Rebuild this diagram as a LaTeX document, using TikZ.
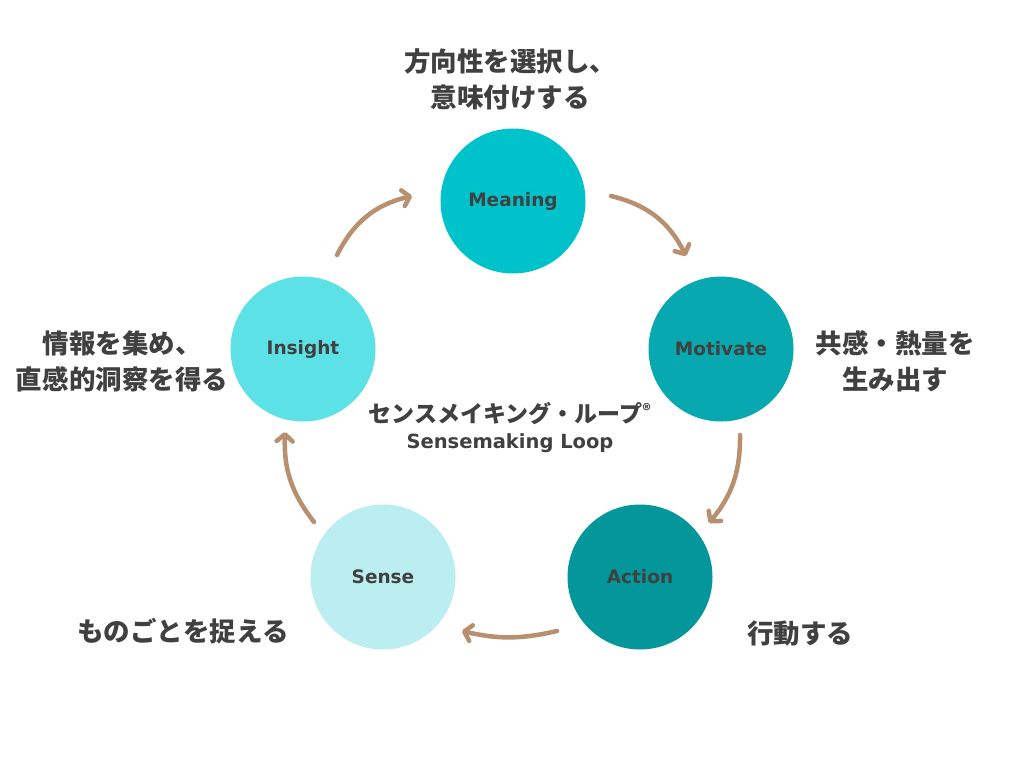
\documentclass[tikz,border=0pt]{standalone}
\usepackage{fontspec}
\setmainfont{DejaVu Sans}
\newfontfamily\jpfont{Noto Sans CJK JP}
\usetikzlibrary{arrows.meta}

\definecolor{inkgray}{HTML}{404040}
\definecolor{arrowtan}{HTML}{B8906F}
\definecolor{meaningcol}{HTML}{00C2CB}
\definecolor{motivatecol}{HTML}{07A8B0}
\definecolor{actioncol}{HTML}{03979C}
\definecolor{sensecol}{HTML}{BAEEF0}
\definecolor{insightcol}{HTML}{5CE1E6}

\begin{document}
\begin{tikzpicture}[
    x=1pt, y=-1pt,
    stage/.style={circle, fill=#1, minimum size=145pt, inner sep=0pt,
        text=inkgray, font=\fontsize{18.5}{20}\selectfont\bfseries},
    note/.style={align=center, text=inkgray,
        font=\jpfont\fontsize{26.5}{36}\selectfont\bfseries},
    flow/.style={arrowtan, line width=4.5pt, line cap=round,
        -{Straight Barb[length=7pt, width=16pt, line width=4.5pt, round]}}
]

    % Canvas
    \useasboundingbox[fill=white] (0,0) rectangle (1024,768);

    % Stages of the loop
    \node[stage=meaningcol]  (meaning)  at (513,201) {Meaning};
    \node[stage=motivatecol] (motivate) at (721,349) {Motivate};
    \node[stage=actioncol]   (action)   at (640,577) {Action};
    \node[stage=sensecol]    (sense)    at (383,577) {Sense};
    \node[stage=insightcol]  (insight)  at (303,349) {Insight};

    % Arrow ends
    \coordinate (ins-out)  at (337,255);
    \coordinate (mea-in)   at (412,196);
    \coordinate (mea-out)  at (611,196);
    \coordinate (mot-in)   at (686,256);
    \coordinate (mot-out)  at (740,435);
    \coordinate (act-in)   at (709,523);
    \coordinate (act-out)  at (557,631);
    \coordinate (sen-in)   at (462,631);
    \coordinate (sen-out)  at (314,522);
    \coordinate (ins-in)   at (285,432);

    % Loop arrows
    \draw[flow] (ins-out) to[bend left=25] (mea-in);
    \draw[flow] (mea-out) to[bend left=25] (mot-in);
    \draw[flow] (mot-out) to[bend left=20] (act-in);
    \draw[flow] (act-out) to[bend left=13] (sen-in);
    \draw[flow] (sen-out) to[bend left=20] (ins-in);

    % Descriptions
    \node[note] (meaning-note)  at (510,79)  {方向性を選択し、\\意味付けする};
    \node[note] (motivate-note) at (895,361) {共感・熱量を\\生み出す};
    \node[note] (action-note)   at (800,634) {行動する};
    \node[note] (sense-note)    at (183,631) {ものごとを捉える};
    \node[note] (insight-note)  at (122,361) {情報を集め、\\直感的洞察を得る};

    % Title
    \node[text=inkgray, font=\jpfont\fontsize{23}{24}\selectfont\bfseries] (title-jp)
        at (510,414) {センスメイキング・ループ{\fontsize{16}{16}\selectfont\raisebox{6pt}{®}}};
    \node[text=inkgray, font=\fontsize{19.5}{21}\selectfont\bfseries] (title-en)
        at (510,443) {Sensemaking Loop};

\end{tikzpicture}
\end{document}
